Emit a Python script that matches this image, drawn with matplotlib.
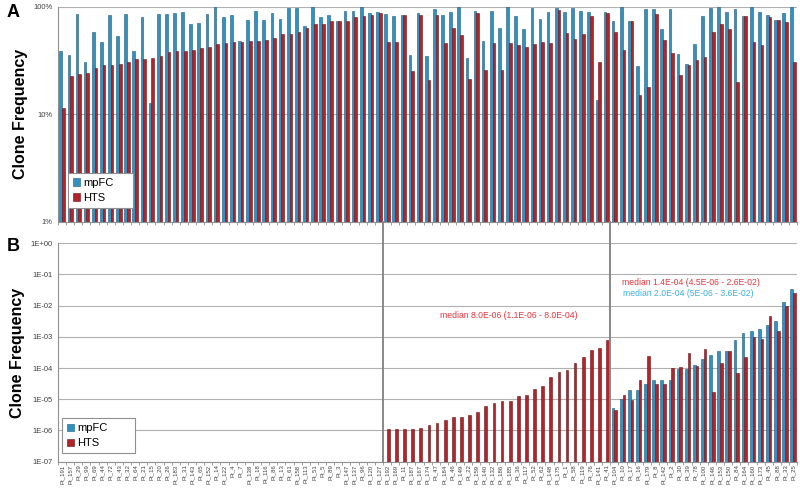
import numpy as np
import matplotlib
matplotlib.use("Agg")
import matplotlib.pyplot as plt
from matplotlib.ticker import FixedLocator, NullFormatter

plt.rcParams['font.family'] = ['Liberation Sans', 'DejaVu Sans']

# patient ids, left to right
patients = ["Pt_191", "Pt_157", "Pt_29", "Pt_99", "Pt_69", "Pt_44", "Pt_72", "Pt_43", "Pt_32", "Pt_64",
            "Pt_21", "Pt_15", "Pt_20", "Pt_26", "Pt_183", "Pt_31", "Pt_143", "Pt_65", "Pt_152", "Pt_14",
            "Pt_122", "Pt_4", "Pt_7", "Pt_138", "Pt_18", "Pt_116", "Pt_86", "Pt_13", "Pt_61", "Pt_158",
            "Pt_113", "Pt_51", "Pt_5", "Pt_89", "Pt_3", "Pt_147", "Pt_137", "Pt_96", "Pt_120", "Pt_127",
            "Pt_192", "Pt_169", "Pt_11", "Pt_187", "Pt_167", "Pt_174", "Pt_47", "Pt_184", "Pt_46", "Pt_149",
            "Pt_22", "Pt_159", "Pt_140", "Pt_132", "Pt_186", "Pt_185", "Pt_36", "Pt_117", "Pt_52", "Pt_62",
            "Pt_148", "Pt_175", "Pt_1", "Pt_58", "Pt_119", "Pt_76", "Pt_141", "Pt_41",
            "Pt_104", "Pt_10", "Pt_17", "Pt_16", "Pt_179", "Pt_8", "Pt_142", "Pt_2", "Pt_30", "Pt_39",
            "Pt_78", "Pt_100", "Pt_146", "Pt_153", "Pt_150", "Pt_84", "Pt_164", "Pt_160", "Pt_173", "Pt_45",
            "Pt_88", "Pt_33", "Pt_25"]

# A: clone frequency in the sample (%)
mpfc_pct = [39, 36, 86, 31, 58, 47, 84, 54, 85, 39,
            80, 12.8, 86, 86, 88.5, 90, 69, 70.6, 86, 99,
            80, 84, 48, 76, 92, 76, 88.6, 77.4, 97.9, 97.9,
            65.8, 99.3, 79.7, 84.3, 73.2, 91.8, 91.8, 99.3, 88.6, 90.5,
            85.5, 82.6, 84.3, 35.9, 87.4, 35.2, 95.1, 84.3, 89.2, 99.3,
            33.5, 92.5, 47.8, 92.5, 63.5, 99.3, 82.6, 62.5, 97.2, 76.9,
            90.5, 97.2, 89.2, 97.2, 92.5, 90.5, 13.5, 90.5, 74.2, 99.3,
            73.2, 28, 95.1, 95.1, 62.5, 95.1, 36.7, 29.7, 45.4, 82.6,
            97.2, 99.3, 90.5, 95.1, 81.4, 100, 90.5, 84.3, 74.7, 88.6, 100]
hts_pct = [11.4, 23, 24, 24.3, 27, 28.6, 29, 29.6, 31, 32.7,
           32.7, 33.5, 35, 37.7, 38.6, 39, 40, 41.4, 42, 45,
           46, 47, 47.4, 47.7, 47.7, 49.5, 51.3, 55.8, 56.2, 57.8,
           63, 69.1, 69.6, 73.2, 74.2, 74.2, 79.7, 81.4, 84.3, 88.6,
           47.1, 47.1, 84.3, 25.5, 84.3, 21.1, 84.3, 46.1, 63.5, 54.3,
           21.4, 88.6, 25.7, 46.1, 25.7, 46.1, 44.5, 42, 45.4, 47.1,
           46.1, 93.8, 57, 50.6, 55.5, 81.4, 30.5, 88.6, 58.3, 39.4,
           74.2, 15, 18, 86.1, 49.5, 37.2, 23.5, 29, 31.8, 34.2,
           58.3, 69.1, 62.1, 20.1, 82.6, 47.1, 43.8, 80.2, 74.7, 72.1, 30.5]

# B: clone frequency in the corresponding blood sample
hts_blood_mid = [1.12e-6, 1.12e-6, 1.12e-6, 1.12e-6, 1.17e-6, 1.5e-6, 1.74e-6, 2.23e-6, 2.64e-6, 2.64e-6,
                 3.14e-6, 3.9e-6, 6.1e-6, 7.6e-6, 8.9e-6, 8.9e-6, 1.26e-5, 1.41e-5, 2.14e-5, 2.68e-5,
                 5.0e-5, 7.7e-5, 8.7e-5, 1.42e-4, 2.28e-4, 3.8e-4, 4.5e-4, 7.8e-4]
mpfc_blood_right = [5.1e-6, 1.0e-5, 2.0e-5, 2.0e-5, 3.0e-5, 4.0e-5, 4.0e-5, 4.2e-5, 9.1e-5, 9.1e-5,
                    1.26e-4, 1.95e-4, 2.6e-4, 3.5e-4, 3.6e-4, 7.9e-4, 1.36e-3, 1.55e-3, 1.75e-3, 2.4e-3,
                    3.3e-3, 1.35e-2, 3.4e-2]
hts_blood_right = [4.6e-6, 1.38e-5, 9.5e-6, 4.2e-5, 2.5e-4, 3.1e-5, 3.1e-5, 9.8e-5, 1.1e-4, 2.96e-4,
                   1.2e-4, 4.1e-4, 1.75e-5, 1.42e-4, 3.4e-4, 7.1e-5, 2.3e-4, 1.02e-3, 8.5e-4, 4.7e-3,
                   1.58e-3, 9.8e-3, 2.5e-2]

blue, blue_edge = "#3391c2", "#1c5a7c"
red, red_edge = "#b3232a", "#6a1216"
grey = "#404040"

x = np.arange(len(patients))
n_left = 40
x_mid = x[n_left:n_left + len(hts_blood_mid)]
x_right = x[n_left + len(hts_blood_mid):]
w = 0.33

fig = plt.figure(figsize=(8, 4.9), dpi=100)
axA = fig.add_axes([0.0725, 0.547, 0.924, 0.439])
axB = fig.add_axes([0.0725, 0.0578, 0.924, 0.4457])

axA.bar(x - w / 2, mpfc_pct, w, color=blue, edgecolor=blue_edge, linewidth=0.4, label="mpFC", zorder=2)
axA.bar(x + w / 2, hts_pct, w, color=red, edgecolor=red_edge, linewidth=0.4, label="HTS", zorder=2)
axA.set_yscale("log")
axA.set_ylim(1, 100)
axA.set_yticks([1, 10, 100])
axA.set_yticklabels(["1%", "10%", "100%"])
axA.yaxis.set_minor_locator(FixedLocator([]))

axB.bar(x_mid + w / 2, hts_blood_mid, w, color=red, edgecolor=red_edge, linewidth=0.4, zorder=2)
axB.bar(x_right - w / 2, mpfc_blood_right, w, color=blue, edgecolor=blue_edge, linewidth=0.4, label="mpFC", zorder=2)
axB.bar(x_right + w / 2, hts_blood_right, w, color=red, edgecolor=red_edge, linewidth=0.4, label="HTS", zorder=2)
axB.set_yscale("log")
axB.set_ylim(1e-7, 1)
decades = [10.0 ** k for k in range(-7, 1)]
axB.set_yticks(decades)
axB.set_yticklabels(["1E-07", "1E-06", "1E-05", "1E-04", "1E-03", "1E-02", "1E-01", "1E+00"])
axB.yaxis.set_minor_locator(FixedLocator([]))

for ax in (axA, axB):
    ax.set_xlim(-0.5, len(patients) - 0.5)
    ax.grid(axis="y", color="#b0b0b0", linewidth=0.8, zorder=0)
    ax.set_axisbelow(True)
    for s in ("top", "right"):
        ax.spines[s].set_visible(False)
    for s in ("left", "bottom"):
        ax.spines[s].set_color("#909090")
    ax.tick_params(axis="y", length=0, labelsize=5.5, labelcolor=grey, pad=4)
    ax.set_xticks(x)
    ax.tick_params(axis="x", which="major", length=0)
    ax.xaxis.set_minor_locator(FixedLocator(np.arange(-0.5, len(patients), 1)))
    ax.tick_params(axis="x", which="minor", length=2.5, color="#909090")
    ax.set_ylabel("Clone Frequency", fontsize=11.5, fontweight="bold", labelpad=4)

axA.xaxis.set_major_formatter(NullFormatter())
axB.set_xticklabels(patients, rotation=90, fontsize=4.3, color=grey)
axB.tick_params(axis="x", which="major", pad=2)

# section dividers
for xv in (n_left - 0.5, n_left + len(hts_blood_mid) - 0.5):
    axB.axvline(xv, ymin=0, ymax=1.098, color="#888888", linewidth=1.4, clip_on=False, zorder=3)

axB.text(55, 4.7e-3, "median 8.0E-06 (1.1E-06 - 8.0E-04)", color="#e8353a", fontsize=6.2, ha="center", va="center")
axB.text(68.9, 5.4e-2, "median 1.4E-04 (4.5E-06 - 2.6E-02)", color="#e8353a", fontsize=6.2, ha="left", va="center")
axB.text(69.1, 2.37e-2, "median 2.0E-04 (5E-06 - 3.6E-02)", color="#3fb0e0", fontsize=6.2, ha="left", va="center")

leg_kw = dict(loc="upper left", mode="expand", fontsize=8, frameon=True, fancybox=False, edgecolor="#909090",
              handlelength=0.6, handleheight=0.6, handletextpad=0.3, borderpad=0.45, labelspacing=0.45,
              borderaxespad=0)
legA = axA.legend(bbox_to_anchor=(0.0135, 0.228, 0.088, 0.0), **leg_kw)
legB = axB.legend(bbox_to_anchor=(0.006, 0.2, 0.098, 0.0), **leg_kw)
for leg in (legA, legB):
    leg.get_frame().set_linewidth(0.8)
    leg.get_frame().set_alpha(1)

fig.text(0.008, 0.975, "A", fontsize=13, fontweight="bold", va="center")
fig.text(0.008, 0.497, "B", fontsize=13, fontweight="bold", va="center")

fig.savefig("out.png", dpi=100)
